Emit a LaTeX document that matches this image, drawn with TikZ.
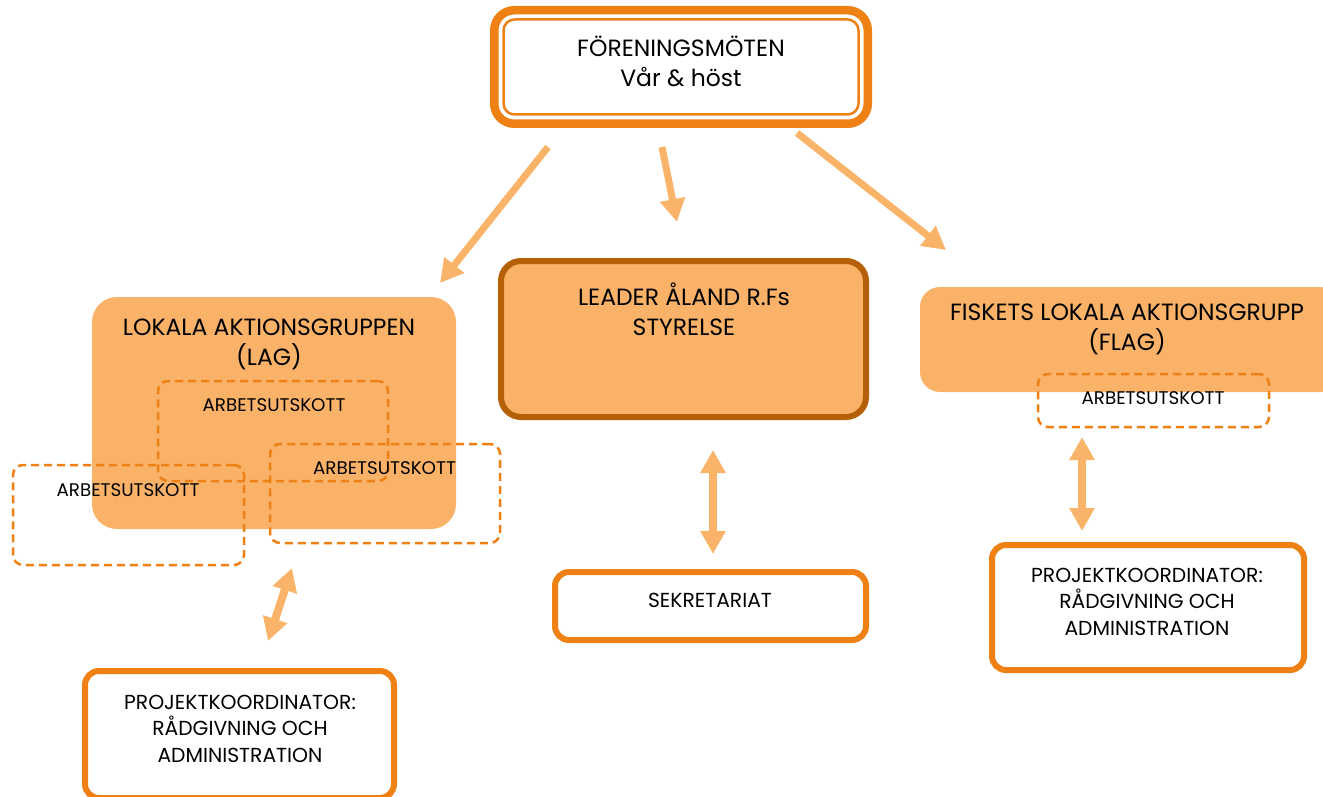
\documentclass[tikz,border=0pt]{standalone}
\usepackage{fontspec}
\setmainfont{Poppins}
\usetikzlibrary{arrows.meta}
\definecolor{orB}{RGB}{238,128,20}
\definecolor{orL}{RGB}{250,178,105}
\definecolor{orA}{RGB}{250,180,106}
\definecolor{orD}{RGB}{181,95,6}
\tikzset{
  bigtxt/.style={font=\fontsize{23.5}{30}\selectfont, align=center, inner sep=0pt},
  autxt/.style={font=\fontsize{18.3}{26}\selectfont, align=center, inner sep=0pt},
  smalltxt/.style={font=\fontsize{20.3}{26.5}\selectfont, align=center, inner sep=0pt},
  fillbox/.style={rectangle, fill=orL, rounded corners=25pt, inner sep=0pt},
  dashbox/.style={rectangle, draw=orB, line width=2.5pt, dash pattern=on 8pt off 5pt, rounded corners=10pt, inner sep=0pt},
  solidbox/.style={rectangle, draw=orB, line width=6pt, fill=white, rounded corners=14pt, inner sep=0pt},
  bigarrow/.style={draw=orA, line width=7pt, -{Triangle[width=24pt,length=23pt]}},
  dblarrow/.style={draw=orA, line width=8pt, {Triangle[width=24pt,length=23pt]}-{Triangle[width=24pt,length=23pt]}},
}
\begin{document}
\begin{tikzpicture}[x=1pt,y=-1pt]
\useasboundingbox (0,0) rectangle (1323,797);
% top box
\node[rectangle, draw=orB, line width=8.5pt, fill=white, rounded corners=20pt, minimum width=373.5pt, minimum height=113.5pt, inner sep=0pt] (top) at (681,67) {};
\node[rectangle, draw=orB, line width=2.5pt, rounded corners=11pt, minimum width=355pt, minimum height=95pt, inner sep=0pt] (topin) at (681,67) {};
\node[bigtxt] (toptxt) at (681,61) {FÖRENINGSMÖTEN\\Vår \& höst};

% LAG
\node[fillbox, minimum width=364pt, minimum height=232pt] (lag) at (274,413) {};
\node[bigtxt] (lagtxt) at (269,344) {LOKALA AKTIONSGRUPPEN\\(LAG)};
\node[dashbox, minimum width=230pt, minimum height=100pt] (au1) at (273,431) {};
\node[autxt] (au1t) at (274,405) {ARBETSUTSKOTT};
\node[dashbox, minimum width=230pt, minimum height=99pt] (au2) at (385,493.5) {};
\node[autxt] (au2t) at (384.5,468) {ARBETSUTSKOTT};
\node[dashbox, minimum width=231pt, minimum height=100pt] (au3) at (128.5,515) {};
\node[autxt] (au3t) at (128,490) {ARBETSUTSKOTT};

% LEADER
\node[rectangle, draw=orD, line width=6pt, fill=orL, rounded corners=20pt, minimum width=365pt, minimum height=156pt, inner sep=0pt] (leader) at (683.5,339) {};
\node[bigtxt] (leadertxt) at (684,309) {LEADER ÅLAND R.Fs\\STYRELSE};

% Sekretariat
\node[solidbox, minimum width=311pt, minimum height=68pt] (sek) at (710.5,606) {};
\node[smalltxt] (sektxt) at (710,600) {SEKRETARIAT};

% FLAG
\node[fillbox, rounded corners=20pt, minimum width=420pt, minimum height=105pt] (flag) at (1130,339.5) {};
\node[bigtxt] (flagtxt) at (1127,329) {FISKETS LOKALA AKTIONSGRUPP\\(FLAG)};
\node[dashbox, minimum width=231pt, minimum height=53pt] (au4) at (1153.5,400.5) {};
\node[autxt] (au4t) at (1153,398) {ARBETSUTSKOTT};

% Projektkoordinator right
\node[solidbox, minimum width=312pt, minimum height=125pt] (pkr) at (1148,607.5) {};
\node[smalltxt] (pkrt) at (1147,601.5) {PROJEKTKOORDINATOR:\\RÅDGIVNING OCH\\ADMINISTRATION};

% Projektkoordinator left
\node[solidbox, minimum width=309pt, minimum height=127pt] (pkl) at (239.5,734.5) {};
\node[smalltxt] (pklt) at (240,728.5) {PROJEKTKOORDINATOR:\\RÅDGIVNING OCH\\ADMINISTRATION};

% arrow coordinates
\coordinate (a1s) at (548,147); \coordinate (a1e) at (440,283);
\coordinate (a2s) at (662,147); \coordinate (a2e) at (677,222);
\coordinate (a3s) at (797,133); \coordinate (a3e) at (946,250);
\coordinate (d1s) at (713,450); \coordinate (d1e) at (713,554);
\coordinate (d2s) at (1082,437); \coordinate (d2e) at (1082,531);
\coordinate (d3s) at (292,568); \coordinate (d3e) at (268,641);

\draw[bigarrow] (a1s) -- (a1e);
\draw[bigarrow] (a2s) -- (a2e);
\draw[bigarrow] (a3s) -- (a3e);
\draw[dblarrow] (d1s) -- (d1e);
\draw[dblarrow] (d2s) -- (d2e);
\draw[dblarrow] (d3s) -- (d3e);
\end{tikzpicture}
\end{document}
